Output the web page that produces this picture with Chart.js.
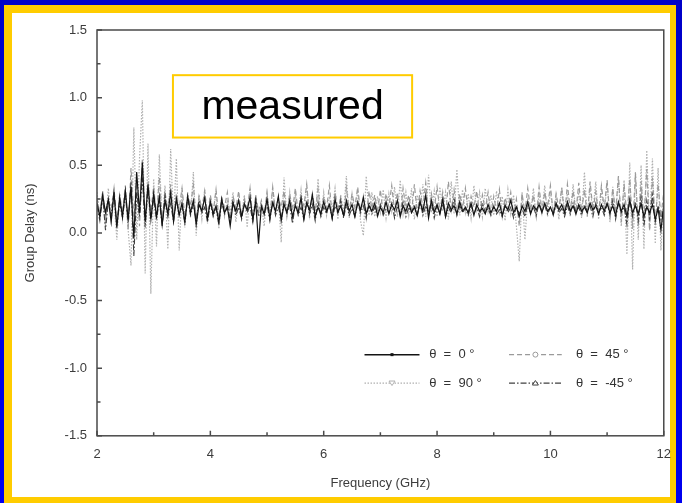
<!DOCTYPE html>
<html>
<head>
<meta charset="utf-8">
<script src="https://cdn.jsdelivr.net/npm/chart.js@4"></script>
<style>
  html, body { margin: 0; padding: 0; }
  body { width: 682px; height: 503px; position: relative; overflow: hidden;
         background: linear-gradient(180deg, #0000c8 0%, #0000f0 100%); }
  #frame { position: absolute; left: 4px; top: 5px; width: 672px; height: 498px; background: #ffcc00; }
  #paper { position: absolute; left: 12px; top: 13px; width: 658px; height: 484px; background: #ffffff; }
  #wrap  { position: absolute; left: 0; top: 0; width: 682px; height: 503px; }
</style>
</head>
<body>
<div id="frame"></div>
<div id="paper"></div>
<div id="wrap"><canvas id="c" width="682" height="503"></canvas></div>
<script>
// Frequency sweep points (GHz)
const freq = [
  2.00,2.05,2.10,2.15,2.20,2.25,2.30,2.35,2.40,2.45,
  2.50,2.55,2.60,2.65,2.70,2.75,2.80,2.85,2.90,2.95,
  3.00,3.05,3.10,3.15,3.20,3.25,3.30,3.35,3.40,3.45,
  3.50,3.55,3.60,3.65,3.70,3.75,3.80,3.85,3.90,3.95,
  4.00,4.05,4.10,4.15,4.20,4.25,4.30,4.35,4.40,4.45,
  4.50,4.55,4.60,4.65,4.70,4.75,4.80,4.85,4.90,4.95,
  5.00,5.05,5.10,5.15,5.20,5.25,5.30,5.35,5.40,5.45,
  5.50,5.55,5.60,5.65,5.70,5.75,5.80,5.85,5.90,5.95,
  6.00,6.05,6.10,6.15,6.20,6.25,6.30,6.35,6.40,6.45,
  6.50,6.55,6.60,6.65,6.70,6.75,6.80,6.85,6.90,6.95,
  7.00,7.05,7.10,7.15,7.20,7.25,7.30,7.35,7.40,7.45,
  7.50,7.55,7.60,7.65,7.70,7.75,7.80,7.85,7.90,7.95,
  8.00,8.05,8.10,8.15,8.20,8.25,8.30,8.35,8.40,8.45,
  8.50,8.55,8.60,8.65,8.70,8.75,8.80,8.85,8.90,8.95,
  9.00,9.05,9.10,9.15,9.20,9.25,9.30,9.35,9.40,9.45,
  9.50,9.55,9.60,9.65,9.70,9.75,9.80,9.85,9.90,9.95,
  10.00,10.05,10.10,10.15,10.20,10.25,10.30,10.35,10.40,10.45,
  10.50,10.55,10.60,10.65,10.70,10.75,10.80,10.85,10.90,10.95,
  11.00,11.05,11.10,11.15,11.20,11.25,11.30,11.35,11.40,11.45,
  11.50,11.55,11.60,11.65,11.70,11.75,11.80,11.85,11.90,11.95,12.00
];

// Measured group delay (ns), theta = 0 deg
const delay0 = [
  0.22,0.12,0.28,0.15,0.25,0.08,0.30,0.04,0.26,0.12,
  0.31,0.10,0.34,-0.04,0.45,0.15,0.52,0.08,0.36,0.10,
  0.29,0.12,0.27,0.06,0.24,0.14,0.30,0.09,0.25,0.13,
  0.22,0.08,0.27,0.15,0.24,0.06,0.21,0.16,0.26,0.11,
  0.23,0.14,0.20,0.08,0.25,0.15,0.19,0.05,0.22,0.16,
  0.24,0.12,0.21,0.17,0.26,0.10,0.23,-0.08,0.20,0.14,
  0.25,0.11,0.22,0.16,0.27,0.09,0.21,0.15,0.24,0.12,
  0.20,0.15,0.26,0.10,0.22,0.17,0.28,0.12,0.19,0.14,
  0.23,0.16,0.21,0.11,0.25,0.15,0.20,0.13,0.24,0.16,
  0.21,0.12,0.23,0.17,0.26,0.14,0.20,0.16,0.22,0.13,
  0.19,0.15,0.23,0.14,0.21,0.17,0.24,0.12,0.20,0.16,
  0.22,0.15,0.19,0.13,0.23,0.16,0.28,0.11,0.24,0.15,
  0.21,0.14,0.25,0.12,0.22,0.17,0.20,0.14,0.23,0.16,
  0.19,0.15,0.22,0.13,0.21,0.16,0.18,0.14,0.21,0.15,
  0.19,0.16,0.22,0.13,0.20,0.17,0.24,0.15,0.19,0.12,
  0.20,0.16,0.23,0.14,0.20,0.17,0.21,0.15,0.22,0.16,
  0.19,0.14,0.22,0.17,0.21,0.15,0.23,0.16,0.20,0.14,
  0.21,0.16,0.19,0.15,0.22,0.17,0.20,0.14,0.21,0.16,
  0.22,0.15,0.20,0.13,0.23,0.16,0.21,0.12,0.24,0.15,
  0.20,0.14,0.22,0.12,0.19,0.15,0.21,0.10,0.18,0.02,0.20
];

// theta = 45 deg
const delay45 = [
  0.26,0.14,0.31,0.10,0.24,0.18,0.33,0.07,0.28,0.15,
  0.35,0.02,0.48,0.12,0.40,0.05,0.55,0.10,0.38,0.16,
  0.34,0.11,0.41,0.09,0.30,0.17,0.36,0.08,0.29,0.18,
  0.33,0.12,0.28,0.20,0.35,0.10,0.27,0.18,0.31,0.13,
  0.28,0.15,0.32,0.11,0.26,0.19,0.30,0.09,0.27,0.18,
  0.31,0.12,0.25,0.17,0.33,0.08,0.28,0.16,0.24,0.13,
  0.30,0.11,0.34,0.15,0.26,0.19,0.31,0.12,0.29,0.17,
  0.33,0.14,0.27,0.20,0.36,0.11,0.29,0.16,0.32,0.14,
  0.27,0.18,0.35,0.13,0.30,0.17,0.26,0.12,0.33,0.16,
  0.29,0.19,0.34,0.14,0.27,0.11,0.31,0.18,0.28,0.15,
  0.32,0.13,0.29,0.19,0.35,0.16,0.30,0.12,0.33,0.18,
  0.28,0.15,0.36,0.14,0.31,0.19,0.37,0.13,0.29,0.17,
  0.34,0.16,0.30,0.12,0.38,0.17,0.32,0.14,0.29,0.18,
  0.33,0.15,0.27,0.19,0.31,0.13,0.28,0.17,0.30,0.14,
  0.27,0.16,0.32,0.12,0.26,0.18,0.30,0.13,0.25,0.05,
  0.29,0.15,0.33,0.17,0.28,0.12,0.34,0.16,0.30,0.19,
  0.35,0.14,0.29,0.18,0.33,0.13,0.36,0.17,0.31,0.15,
  0.37,0.16,0.32,0.12,0.38,0.17,0.30,0.14,0.35,0.18,
  0.39,0.10,0.33,0.15,0.42,0.08,0.36,0.12,0.40,0.03,
  0.44,0.05,0.38,0.10,0.47,0.02,0.41,0.08,0.36,0.12,0.30
];

// theta = 90 deg
const delay90 = [
  0.30,0.12,0.27,0.05,0.33,0.09,0.25,-0.05,0.29,0.10,
  0.33,0.02,-0.24,0.78,-0.05,0.55,0.98,-0.30,0.66,-0.45,
  0.40,-0.10,0.58,0.05,0.35,-0.12,0.62,0.08,0.55,-0.13,
  0.33,0.04,0.30,0.12,0.45,-0.02,0.28,0.10,0.32,0.07,
  0.26,0.14,0.31,0.03,0.27,0.12,0.24,0.15,0.30,0.08,
  0.25,0.12,0.28,0.04,0.33,0.10,0.26,0.15,0.22,0.05,
  0.29,0.11,0.33,0.14,0.27,-0.07,0.41,0.12,0.30,0.08,
  0.28,0.14,0.32,0.10,0.35,0.13,0.29,0.09,0.40,0.12,
  0.30,0.13,0.27,0.16,0.33,0.10,0.28,0.15,0.42,0.11,
  0.29,0.14,0.31,0.09,-0.02,0.42,0.13,0.30,0.12,0.27,
  0.15,0.32,0.11,0.29,0.16,0.34,0.12,0.39,0.14,0.30,
  0.13,0.33,0.10,0.28,0.17,0.36,0.12,0.43,0.15,0.31,
  0.12,0.34,0.16,0.30,0.10,0.38,0.14,0.47,0.13,0.32,
  0.15,0.29,0.11,0.35,0.17,0.30,0.12,0.33,0.16,0.28,
  0.13,0.31,0.15,0.27,0.09,0.32,0.14,0.28,0.05,-0.21,
  0.30,-0.05,0.26,0.14,0.33,0.11,0.29,0.15,0.35,0.12,
  0.31,0.14,0.27,0.10,0.34,0.16,0.29,0.12,0.36,0.15,
  0.30,0.11,0.45,0.13,0.33,0.16,0.38,0.10,0.31,0.14,
  0.37,0.08,0.34,0.12,0.41,0.05,0.39,-0.16,0.52,-0.27,
  0.45,-0.05,0.50,-0.12,0.61,0.02,0.55,-0.08,0.48,-0.13,0.30
];

// theta = -45 deg
const delayM45 = [
  0.20,0.09,0.27,0.02,0.24,0.13,0.30,0.06,0.22,0.11,
  0.28,0.07,0.38,-0.17,0.30,0.12,0.41,0.04,0.33,0.09,
  0.26,0.10,0.24,0.05,0.28,0.12,0.22,0.08,0.25,0.14,
  0.20,0.07,0.26,0.13,0.21,0.09,0.24,0.15,0.19,0.08,
  0.22,0.12,0.18,0.06,0.23,0.14,0.20,0.09,0.24,0.13,
  0.19,0.10,0.22,0.15,0.20,0.08,0.25,0.12,0.18,0.14,
  0.21,0.09,0.24,0.13,0.19,0.11,0.23,0.15,0.20,0.07,
  0.22,0.13,0.19,0.10,0.24,0.14,0.21,0.09,0.23,0.12,
  0.19,0.14,0.22,0.10,0.20,0.15,0.24,0.11,0.21,0.13,
  0.18,0.12,0.22,0.15,0.20,0.11,0.23,0.14,0.19,0.12,
  0.21,0.13,0.18,0.15,0.22,0.11,0.20,0.14,0.23,0.12,
  0.19,0.15,0.21,0.12,0.24,0.13,0.20,0.16,0.22,0.11,
  0.20,0.14,0.22,0.12,0.19,0.15,0.26,0.13,0.20,0.15,
  0.18,0.13,0.21,0.14,0.19,0.12,0.22,0.15,0.18,0.13,
  0.20,0.14,0.17,0.12,0.21,0.15,0.19,0.11,0.20,0.14,
  0.18,0.12,0.21,0.15,0.19,0.13,0.22,0.16,0.20,0.14,
  0.19,0.13,0.21,0.15,0.18,0.12,0.20,0.14,0.22,0.15,
  0.19,0.13,0.21,0.16,0.20,0.12,0.22,0.15,0.19,0.13,
  0.21,0.14,0.24,0.10,0.22,0.15,0.19,0.06,0.25,0.12,
  0.23,0.09,0.27,0.05,0.24,0.11,0.28,0.08,0.20,0.10,0.18
];

const seriesLabels = ['θ  =  0 °', 'θ  =  45 °', 'θ  =  90 °', 'θ  =  -45 °'];
const xTickStep = 2;
const yTickStep = 0.5;

const FONT = '"Liberation Sans", Arial, Helvetica, sans-serif';

function toPoints(ys) { return freq.map((f, i) => ({ x: f, y: ys[i] })); }

// Line styles shared by the plotted series and the legend keys
const styles = [
  { color: '#141414', dash: [],             marker: 'dot'  },
  { color: '#9a9a9a', dash: [5, 3],         marker: 'circle' },
  { color: '#b0b0b0', dash: [1.5, 1.5],     marker: 'tri-down' },
  { color: '#404040', dash: [6, 2, 1.5, 2], marker: 'tri-up' }
];

// Inward tick marks and the closed plot frame
const framePlugin = {
  id: 'plotFrame',
  afterDatasetsDraw(chart) {
    const { ctx, chartArea: a, scales: { x, y } } = chart;
    ctx.save();
    ctx.strokeStyle = '#4a4a4a';
    ctx.lineWidth = 1.5;
    ctx.beginPath();
    y.ticks.forEach((t, i) => {
      const py = y.getPixelForValue(t.value);
      ctx.moveTo(a.left, py); ctx.lineTo(a.left + 5, py);
      if (i < y.ticks.length - 1) {
        const pm = y.getPixelForValue((t.value + y.ticks[i + 1].value) / 2);
        ctx.moveTo(a.left, pm); ctx.lineTo(a.left + 3.5, pm);
      }
    });
    x.ticks.forEach((t, i) => {
      const px = x.getPixelForValue(t.value);
      ctx.moveTo(px, a.bottom); ctx.lineTo(px, a.bottom - 5);
      if (i < x.ticks.length - 1) {
        const pm = x.getPixelForValue((t.value + x.ticks[i + 1].value) / 2);
        ctx.moveTo(pm, a.bottom); ctx.lineTo(pm, a.bottom - 3.5);
      }
    });
    ctx.stroke();
    ctx.strokeRect(a.left, a.top, a.right - a.left, a.bottom - a.top);
    ctx.restore();
  }
};

function drawMarker(ctx, kind, cx, cy, color) {
  ctx.save();
  ctx.setLineDash([]);
  ctx.lineWidth = 1;
  ctx.strokeStyle = color;
  ctx.fillStyle = color;
  ctx.beginPath();
  if (kind === 'dot') {
    ctx.fillRect(cx - 1.5, cy - 1.5, 3, 3);
  } else if (kind === 'circle') {
    ctx.fillStyle = '#fff';
    ctx.arc(cx, cy, 2.5, 0, Math.PI * 2);
    ctx.fill(); ctx.stroke();
  } else if (kind === 'tri-down') {
    ctx.fillStyle = '#fff';
    ctx.moveTo(cx - 3, cy - 2); ctx.lineTo(cx + 3, cy - 2); ctx.lineTo(cx, cy + 2.5); ctx.closePath();
    ctx.fill(); ctx.stroke();
  } else if (kind === 'tri-up') {
    ctx.fillStyle = '#fff';
    ctx.moveTo(cx - 3, cy + 2); ctx.lineTo(cx + 3, cy + 2); ctx.lineTo(cx, cy - 2.5); ctx.closePath();
    ctx.fill(); ctx.stroke();
  }
  ctx.restore();
}

// In-plot legend (2 x 2) and the "measured" caption box
const notesPlugin = {
  id: 'notes',
  afterDraw(chart) {
    const { ctx, scales: { x, y } } = chart;
    ctx.save();
    // legend
    const rows = [y.getPixelForValue(-0.9), y.getPixelForValue(-1.11)];
    const cols = [
      { x0: x.getPixelForValue(6.72), x1: x.getPixelForValue(7.69), tx: x.getPixelForValue(7.86) },
      { x0: x.getPixelForValue(9.27), x1: x.getPixelForValue(10.2), tx: x.getPixelForValue(10.45) }
    ];
    const order = [[0, 0, 0], [1, 0, 1], [2, 1, 0], [3, 1, 1]];
    order.forEach(([s, r, c]) => {
      const st = styles[s];
      const py = rows[r];
      const col = cols[c];
      ctx.strokeStyle = st.color;
      ctx.lineWidth = s === 0 ? 1.5 : 1.2;
      ctx.setLineDash(st.dash);
      ctx.beginPath();
      ctx.moveTo(col.x0, py); ctx.lineTo(col.x1, py);
      ctx.stroke();
      drawMarker(ctx, st.marker, (col.x0 + col.x1) / 2, py, st.color);
      ctx.setLineDash([]);
      ctx.fillStyle = '#333';
      ctx.font = '13px ' + FONT;
      ctx.textAlign = 'left';
      ctx.textBaseline = 'middle';
      ctx.fillText(seriesLabels[s], col.tx, py);
    });
    // caption box
    const bx0 = x.getPixelForValue(3.34), bx1 = x.getPixelForValue(7.56);
    const by0 = y.getPixelForValue(1.166), by1 = y.getPixelForValue(0.705);
    ctx.strokeStyle = '#ffcc00';
    ctx.lineWidth = 2;
    ctx.strokeRect(bx0, by0, bx1 - bx0, by1 - by0);
    ctx.fillStyle = '#000';
    ctx.font = '41px ' + FONT;
    ctx.textAlign = 'center';
    ctx.textBaseline = 'middle';
    ctx.fillText('measured', (bx0 + bx1) / 2, (by0 + by1) / 2 + 1);
    ctx.restore();
  }
};

const datasets = [
  { label: seriesLabels[0], data: toPoints(delay0),   borderColor: styles[0].color, borderDash: styles[0].dash, borderWidth: 1.2 },
  { label: seriesLabels[3], data: toPoints(delayM45), borderColor: styles[3].color, borderDash: styles[3].dash, borderWidth: 1.1 },
  { label: seriesLabels[1], data: toPoints(delay45),  borderColor: styles[1].color, borderDash: styles[1].dash, borderWidth: 1.2 },
  { label: seriesLabels[2], data: toPoints(delay90),  borderColor: styles[2].color, borderDash: styles[2].dash, borderWidth: 1.2 }
];

new Chart(document.getElementById('c'), {
  type: 'line',
  data: { datasets },
  options: {
    responsive: false,
    animation: false,
    devicePixelRatio: 1,
    layout: { padding: { top: 30, right: 17, left: 0, bottom: 0 } },
    elements: { point: { radius: 0 }, line: { tension: 0, fill: false } },
    plugins: { legend: { display: false }, tooltip: { enabled: false } },
    scales: {
      x: {
        type: 'linear', min: 2, max: 12,
        grid: { display: false, drawTicks: false },
        border: { display: false },
        ticks: { stepSize: xTickStep, padding: 11, maxRotation: 0, autoSkip: false,
                 color: '#3c3c3c', font: { family: FONT, size: 13 } },
        title: { display: true, text: 'Frequency (GHz)', color: '#3c3c3c',
                 font: { family: FONT, size: 13 }, padding: { top: 2, bottom: 12 } }
      },
      y: {
        type: 'linear', min: -1.5, max: 1.5,
        grid: { display: false, drawTicks: false },
        border: { display: false },
        afterFit(scale) { scale.width = 97; },
        ticks: { stepSize: yTickStep, padding: 10, color: '#3c3c3c',
                 font: { family: FONT, size: 13 },
                 callback: v => Number(v).toFixed(1) },
        title: { display: true, text: 'Group Delay (ns)', color: '#3c3c3c',
                 font: { family: FONT, size: 13 }, padding: { top: 23, bottom: 0 } }
      }
    }
  },
  plugins: [framePlugin, notesPlugin]
});
</script>
</body>
</html>
